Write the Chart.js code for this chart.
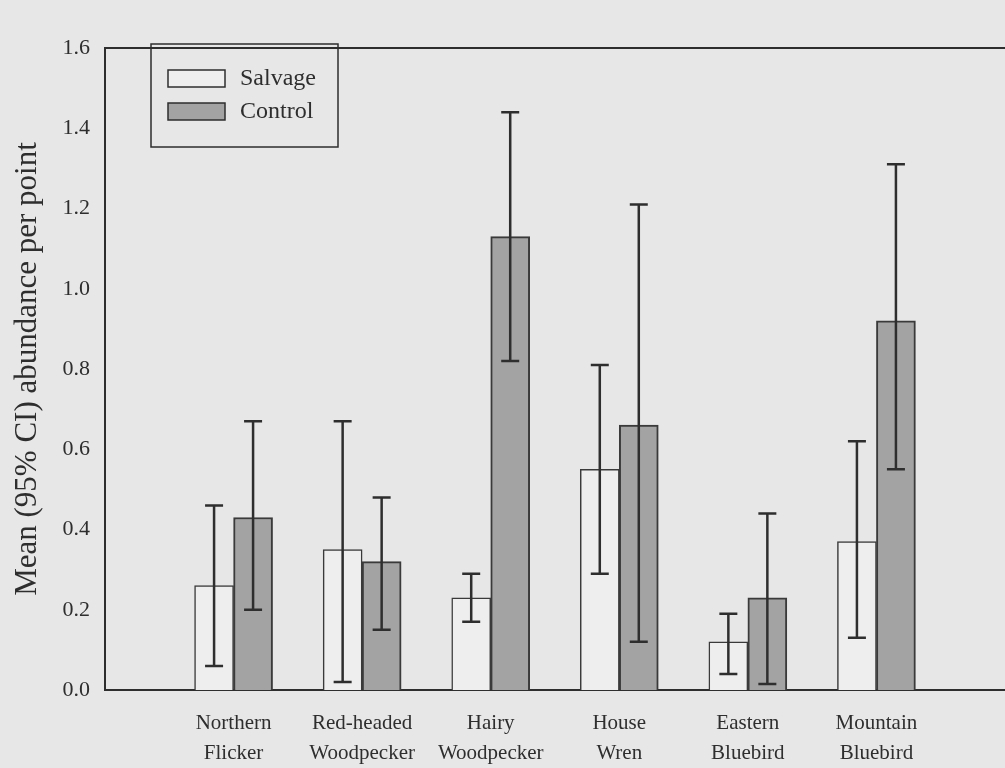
<!DOCTYPE html>
<html>
<head>
<meta charset="utf-8">
<script src="https://cdn.jsdelivr.net/npm/chart.js@4/dist/chart.umd.min.js"></script>
<style>
  body { margin: 0; background: #e7e7e7; }
  canvas { display: block; }
</style>
</head>
<body>
<canvas id="chart" width="1005" height="768"></canvas>
<script>
// species along the x axis (two lines each)
const categories = [
  ["Northern", "Flicker"],
  ["Red-headed", "Woodpecker"],
  ["Hairy", "Woodpecker"],
  ["House", "Wren"],
  ["Eastern", "Bluebird"],
  ["Mountain", "Bluebird"]
];

// mean abundance per point and 95% CI limits
const salvageMean = [0.26, 0.35, 0.23, 0.55, 0.12, 0.37];
const salvageLow  = [0.06, 0.02, 0.17, 0.29, 0.04, 0.13];
const salvageHigh = [0.46, 0.67, 0.29, 0.81, 0.19, 0.62];

const controlMean = [0.43, 0.32, 1.13, 0.66, 0.23, 0.92];
const controlLow  = [0.20, 0.15, 0.82, 0.12, 0.015, 0.55];
const controlHigh = [0.67, 0.48, 1.44, 1.21, 0.44, 1.31];

const yTicks = [0.0, 0.2, 0.4, 0.6, 0.8, 1.0, 1.2, 1.4, 1.6];

const ink = "#2e2e2e";
const serif = "'Liberation Serif', 'Times New Roman', serif";

// empty slot at each end so the groups sit where the original has them
const pad = (arr) => [null, ...arr, null];
const labels = ["", ...categories, ""];

// error bars, drawn on top of the bars
const errorBars = {
  id: "errorBars",
  afterDatasetsDraw(chart) {
    const ctx = chart.ctx;
    const y = chart.scales.y;
    chart.data.datasets.forEach((ds, di) => {
      const meta = chart.getDatasetMeta(di);
      ds.ciLow.forEach((lo, i) => {
        if (lo === null) return;
        const bar = meta.data[i];
        const x = bar.x;
        const yLo = y.getPixelForValue(lo);
        const yHi = y.getPixelForValue(ds.ciHigh[i]);
        ctx.save();
        ctx.strokeStyle = ink;
        ctx.lineWidth = 2.5;
        ctx.beginPath();
        ctx.moveTo(x, yLo); ctx.lineTo(x, yHi);
        ctx.moveTo(x - 9, yLo); ctx.lineTo(x + 9, yLo);
        ctx.moveTo(x - 9, yHi); ctx.lineTo(x + 9, yHi);
        ctx.stroke();
        ctx.restore();
      });
    });
  }
};

// boxed legend in the upper left of the plot
const boxLegend = {
  id: "boxLegend",
  afterDraw(chart) {
    const ctx = chart.ctx;
    ctx.save();
    ctx.strokeStyle = ink;
    ctx.lineWidth = 1.5;
    ctx.strokeRect(151, 44, 187, 103);
    ctx.font = "24px " + serif;
    ctx.textBaseline = "middle";
    chart.data.datasets.forEach((ds, i) => {
      const top = 70 + i * 33;
      ctx.fillStyle = ds.backgroundColor;
      ctx.fillRect(168, top, 57, 17);
      ctx.lineWidth = 1.5;
      ctx.strokeStyle = ink;
      ctx.strokeRect(168, top, 57, 17);
      ctx.fillStyle = ink;
      ctx.fillText(ds.label, 240, top + 9);
    });
    ctx.restore();
  }
};

const noSidePadding = (scale) => {
  scale.paddingLeft = 0;
  scale.paddingRight = 0;
};

new Chart(document.getElementById("chart"), {
  type: "bar",
  data: {
    labels: labels,
    datasets: [
      {
        label: "Salvage",
        data: pad(salvageMean),
        ciLow: pad(salvageLow),
        ciHigh: pad(salvageHigh),
        backgroundColor: "#eeeeee",
        borderColor: "#3a3a3a",
        borderWidth: 1.5,
        barThickness: 39
      },
      {
        label: "Control",
        data: pad(controlMean),
        ciLow: pad(controlLow),
        ciHigh: pad(controlHigh),
        backgroundColor: "#a3a3a3",
        borderColor: "#3a3a3a",
        borderWidth: 2,
        barThickness: 39
      }
    ]
  },
  options: {
    responsive: false,
    animation: false,
    devicePixelRatio: 1,
    layout: { padding: { top: 48, left: 0, right: 0, bottom: 0 } },
    plugins: {
      legend: { display: false },
      tooltip: { enabled: false }
    },
    scales: {
      x: {
        offset: false,
        grid: { display: false, drawTicks: false },
        border: { color: ink, width: 2 },
        ticks: {
          color: ink,
          font: { family: serif, size: 21, lineHeight: 1.4 },
          padding: 19,
          maxRotation: 0,
          autoSkip: false
        },
        afterFit: (scale) => { scale.height = 78; noSidePadding(scale); }
      },
      xTop: {
        type: "linear",
        position: "top",
        min: 0,
        max: 1,
        grid: { display: false, drawTicks: false },
        border: { color: ink, width: 2 },
        ticks: { display: false },
        afterFit: (scale) => { scale.height = 0; noSidePadding(scale); }
      },
      y: {
        min: 0,
        max: 1.6,
        grid: { display: false, drawTicks: false },
        border: { color: ink, width: 2 },
        afterBuildTicks: (scale) => {
          scale.ticks = yTicks.map((v) => ({ value: v }));
        },
        ticks: {
          color: ink,
          font: { family: serif, size: 22 },
          padding: 15,
          callback: (v) => Number(v).toFixed(1)
        },
        title: {
          display: true,
          text: "Mean (95% CI) abundance per point",
          color: ink,
          font: { family: serif, size: 31 },
          padding: { top: 9, bottom: 0 }
        },
        afterFit: (scale) => { scale.width = 105; }
      }
    }
  },
  plugins: [errorBars, boxLegend]
});
</script>
</body>
</html>
